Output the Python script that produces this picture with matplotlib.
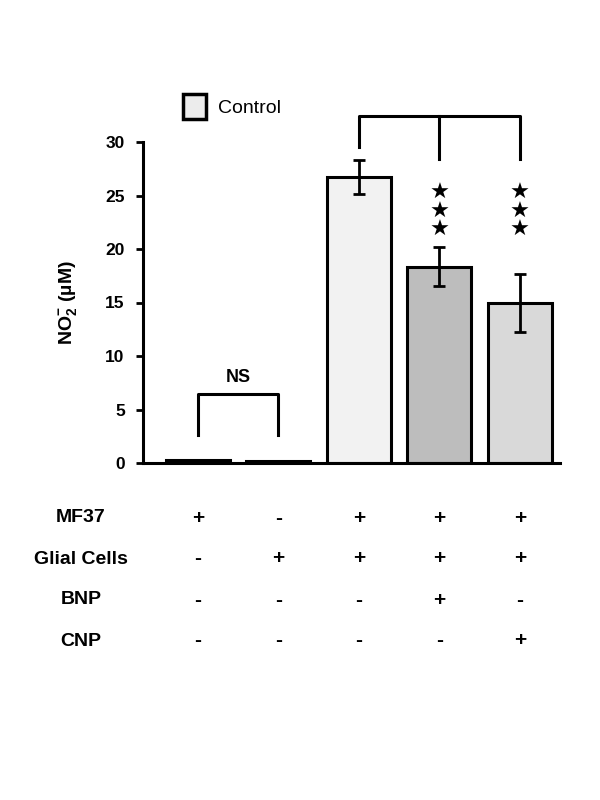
import matplotlib

matplotlib.use("Agg")
import matplotlib.pyplot as plt
from matplotlib.patches import Patch
from matplotlib.transforms import blended_transform_factory

plt.rcParams["font.family"] = ["Liberation Sans", "DejaVu Sans"]
plt.rcParams["mathtext.fontset"] = "custom"
plt.rcParams["mathtext.rm"] = "Liberation Sans:bold"
plt.rcParams["mathtext.bf"] = "Liberation Sans:bold"

# data
means = [0.3, 0.15, 26.7, 18.35, 14.95]
errors = [0.0, 0.0, 1.6, 1.85, 2.7]
bar_colors = ["#222222", "#222222", "#f2f2f2", "#bdbdbd", "#d9d9d9"]
row_labels = ["MF37", "Glial Cells", "BNP", "CNP"]
row_signs = [
    ["+", "-", "+", "+", "+"],
    ["-", "+", "+", "+", "+"],
    ["-", "-", "-", "+", "-"],
    ["-", "-", "-", "-", "+"],
]
yticks = [0, 5, 10, 15, 20, 25, 30]

x = list(range(len(means)))

fig = plt.figure(figsize=(6, 8), dpi=100)
ax = fig.add_axes([0.238, 0.42125, 0.695, 0.40125])

ax.bar(x, means, width=0.8, color=bar_colors, edgecolor="black", linewidth=2.2, zorder=2)
ax.errorbar(x[2:], means[2:], yerr=errors[2:], fmt="none", ecolor="black",
            elinewidth=2, capsize=4, capthick=2, zorder=3)

ax.set_xlim(-0.683, 4.497)
ax.set_ylim(0, 30)
ax.set_yticks(yticks)
ax.set_yticklabels([str(t) for t in yticks], fontsize=12.5, fontweight="bold")
ax.set_xticks([])
ax.tick_params(axis="y", direction="out", length=5, width=2, pad=8)
for side in ["top", "right"]:
    ax.spines[side].set_visible(False)
ax.spines["left"].set_linewidth(2.2)
ax.spines["bottom"].set_linewidth(2.2)

ax.set_ylabel("NO$^{-}_{2}$ (\u00b5M)", fontsize=14, fontweight="bold", labelpad=18)

# NS bracket
ax.plot([0, 0, 1, 1], [2.6, 6.45, 6.45, 2.6], color="black", lw=2.2, clip_on=False)
ax.text(0.5, 7.2, "NS", ha="center", va="bottom", fontsize=13, fontweight="bold")

# top bracket
ax.plot([2, 2, 4, 4], [29.5, 32.4, 32.4, 28.4], color="black", lw=2.2, clip_on=False)
ax.plot([3, 3], [32.4, 28.4], color="black", lw=2.2, clip_on=False)

# stars
for xi in [3, 4]:
    for ys in [21.8, 23.5, 25.2]:
        ax.text(xi, ys, "\u2605", ha="center", va="center", fontsize=16,
                family=["DejaVu Sans"])

# legend
fig.legend(handles=[Patch(facecolor="#ececec", edgecolor="black", linewidth=2.5, label="Control")],
           loc="center left", bbox_to_anchor=(0.276, 0.867), frameon=False,
           fontsize=14, handlelength=1.2, handleheight=1.6, handletextpad=0.6)

# condition table
trans = blended_transform_factory(ax.transData, fig.transFigure)
row_y = [518, 559, 600, 641]
for label, signs, yp in zip(row_labels, row_signs, row_y):
    fy = 1 - yp / 800
    fig.text(81 / 600, fy, label, ha="center", va="center", fontsize=14, fontweight="bold")
    for xi, s in zip(x, signs):
        ax.text(xi, fy, s, transform=trans, ha="center", va="center",
                fontsize=15, fontweight="bold")

fig.savefig("out.png", dpi=100)
